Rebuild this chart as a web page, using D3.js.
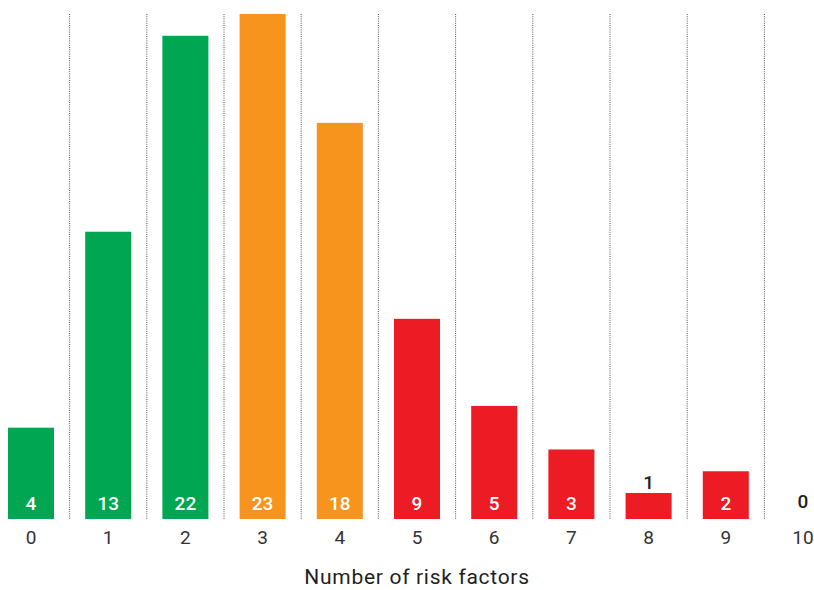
<!DOCTYPE html>
<html>
<head>
<meta charset="utf-8">
<script src="https://cdn.jsdelivr.net/npm/d3@7"></script>
<style>
  html, body { margin: 0; padding: 0; background: #fff; }
  svg { display: block; font-family: Roboto, "Noto Sans", sans-serif; }
</style>
</head>
<body>
<svg id="chart" width="814" height="590"></svg>
<script>
const categories = ["0","1","2","3","4","5","6","7","8","9","10"];
const values = [4, 13, 22, 23, 18, 9, 5, 3, 1, 2, 0];
const groups = ["low","low","low","mid","mid","high","high","high","high","high","high"];
const colorMap = { low: "#00A651", mid: "#F7941D", high: "#ED1C24" };
const xTitle = "Number of risk factors";

const svg = d3.select("#chart");
const baseY = 519, topY = 14;

const step = 77.2;
const x = d3.scaleBand()
  .domain(categories)
  .range([31 - step / 2, 31 - step / 2 + step * categories.length])
  .paddingInner(0.404)
  .paddingOuter(0.202);

const y = d3.scaleLinear().domain([-0.193, 23]).range([baseY, topY]);

// dotted dividers between categories
const dividers = categories.slice(0, -1);
svg.append("g").selectAll("line").data(dividers).join("line")
  .attr("x1", d => x(d) + x.bandwidth() / 2 + x.step() / 2)
  .attr("x2", d => x(d) + x.bandwidth() / 2 + x.step() / 2)
  .attr("y1", topY).attr("y2", baseY)
  .attr("stroke", "#555").attr("stroke-width", 1)
  .attr("stroke-dasharray", "1,1.2");

// bars
svg.append("g").selectAll("rect").data(values).join("rect")
  .attr("x", (d, i) => x(categories[i]))
  .attr("width", x.bandwidth())
  .attr("y", d => y(d))
  .attr("height", d => d > 0 ? baseY - y(d) : 0)
  .attr("fill", (d, i) => colorMap[groups[i]]);

// value labels
const inside = d => (baseY - y(d)) > 30;
svg.append("g").selectAll("text").data(values).join("text")
  .attr("x", (d, i) => x(categories[i]) + x.bandwidth() / 2)
  .attr("y", d => inside(d) ? baseY - 9 : (d > 0 ? y(d) - 4 : baseY - 11))
  .attr("text-anchor", "middle")
  .attr("font-size", 19)
  .attr("font-weight", 500)
  .attr("fill", d => inside(d) ? "#fff" : "#231F20")
  .text(d => d);

// x axis tick labels
const xAxis = d3.axisBottom(x).tickSize(0).tickPadding(0);
const ax = svg.append("g").attr("transform", `translate(0,${baseY})`).call(xAxis);
ax.select(".domain").remove();
ax.selectAll("text")
  .attr("y", 25)
  .attr("dy", 0)
  .attr("font-size", 19)
  .attr("font-family", "Roboto, sans-serif")
  .attr("fill", "#333");

// axis title
svg.append("text")
  .attr("x", 417).attr("y", 584)
  .attr("text-anchor", "middle")
  .attr("font-size", 21)
  .attr("letter-spacing", 0.7)
  .attr("fill", "#231F20")
  .text(xTitle);
</script>
</body>
</html>
